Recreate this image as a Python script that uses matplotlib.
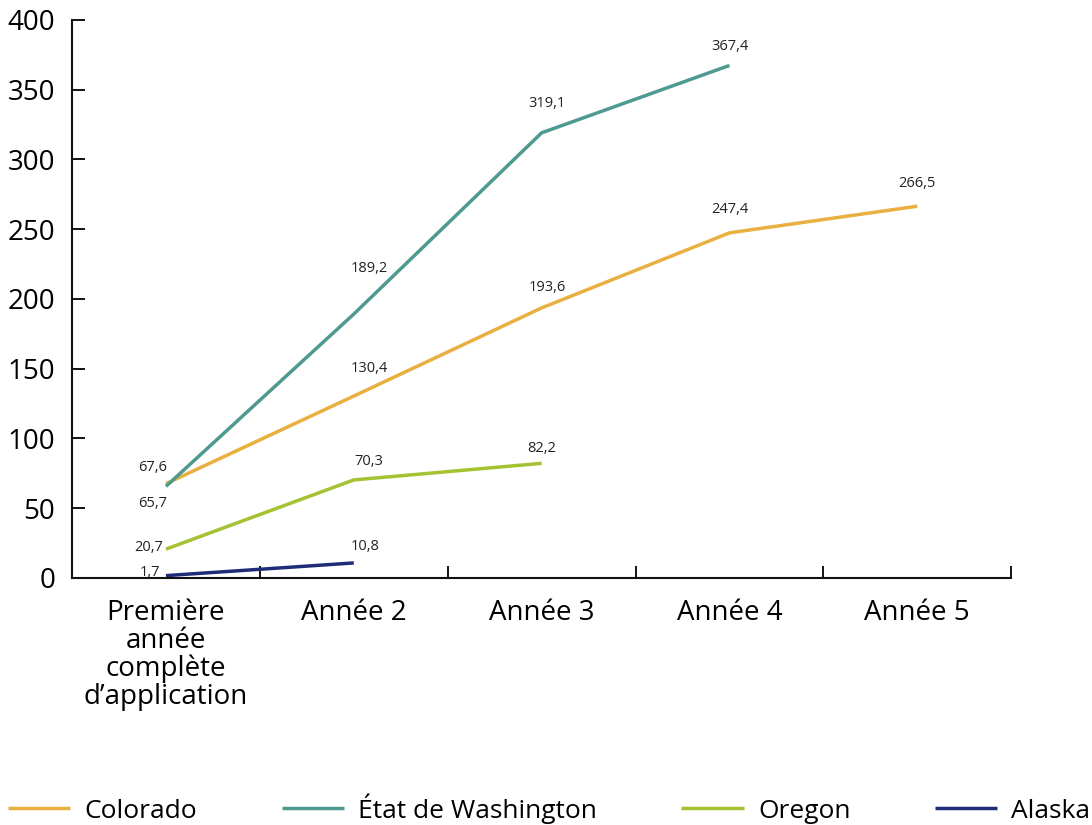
import numpy as np
import matplotlib.pyplot as plt

plt.rcParams['font.family'] = ['Open Sans', 'DejaVu Sans']

# Données
categories = ["Première\nannée\ncomplète\nd\u2019application",
              "Année 2", "Année 3", "Année 4", "Année 5"]
colorado = [67.6, 130.4, 193.6, 247.4, 266.5]
washington = [65.7, 189.2, 319.1, 367.4]
oregon = [20.7, 70.3, 82.2]
alaska = [1.7, 10.8]

series = [
    ("Colorado", colorado, "#E9B040"),
    ("État de Washington", washington, "#4F9A90"),
    ("Oregon", oregon, "#A4C232"),
    ("Alaska", alaska, "#1F2D78"),
]

# décalages des étiquettes (points), premier point à gauche
offsets = {
    "Colorado": [(1, 12), (11, 19.5), (4, 15), (0, 16.5), (0, 16)],
    "État de Washington": [(1, -12), (11, 33), (4, 21), (0, 14)],
    "Oregon": [(-2, 1.5), (11, 13), (0, 11)],
    "Alaska": [(-4, 2), (8, 11.5)],
}

fig = plt.figure(figsize=(10.92, 8.25), dpi=100)
ax = fig.add_axes([0.066, 0.2994, 0.86, 0.6764])

for nom, vals, coul in series:
    x = np.arange(len(vals))
    ax.plot(x, vals, color=coul, lw=2.5, label=nom, solid_capstyle='butt')
    for i, v in enumerate(vals):
        dx, dy = offsets[nom][i]
        ha = 'right' if i == 0 else 'center'
        ax.annotate(f"{v:.1f}".replace(".", ","), (x[i], v),
                    xytext=(dx, dy), textcoords='offset points',
                    ha=ha, va='center', fontsize=10.5, color='#222222')

ax.set_xlim(-0.5, 4.5)
ax.set_ylim(0, 400)
ax.set_yticks(np.arange(0, 401, 50))
ax.set_xticks(np.arange(len(categories)))
ax.set_xticklabels(categories, linespacing=1.0)
ax.set_xticks(np.arange(-0.5, 4.6, 1), minor=True)
ax.tick_params(axis='x', which='major', length=0, labelsize=20, pad=15)
ax.tick_params(axis='x', which='minor', direction='in', length=9, width=1.3)
ax.tick_params(axis='y', direction='in', length=9, width=1.3,
               labelsize=20, pad=12)
for s in ['top', 'right']:
    ax.spines[s].set_visible(False)
for s in ['left', 'bottom']:
    ax.spines[s].set_linewidth(1.5)
    ax.spines[s].set_color('#111111')

fig.legend(loc='lower center', bbox_to_anchor=(0.503, -0.027), ncol=4,
           frameon=False, fontsize=19, handlelength=2.35, handletextpad=0.55,
           columnspacing=3.2)

fig.savefig("out.png", dpi=100)
